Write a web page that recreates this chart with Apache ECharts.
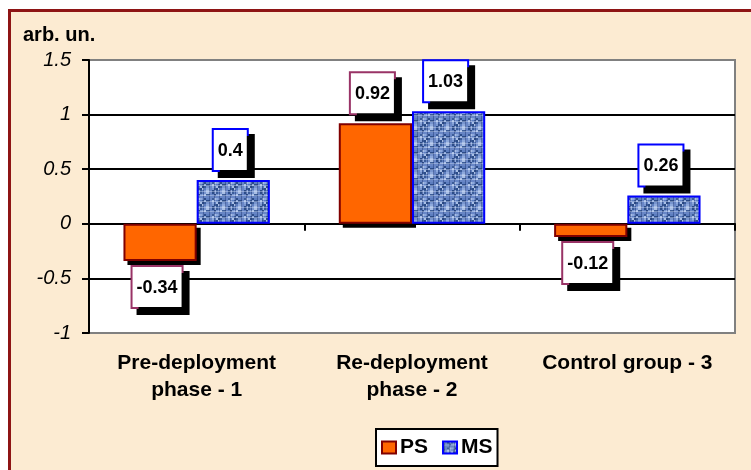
<!DOCTYPE html>
<html>
<head>
<meta charset="utf-8">
<script src="https://cdn.jsdelivr.net/npm/echarts@6/dist/echarts.min.js"></script>
<style>
html,body{margin:0;padding:0;background:#fff;}
#chart{width:751px;height:470px;}
</style>
</head>
<body>
<div id="chart"></div>
<script>
const categories = ['Pre-deployment\nphase - 1', 'Re-deployment\nphase - 2', 'Control group - 3'];
const seriesNames = ['PS', 'MS'];
const psValues = [-0.34, 0.92, -0.12];
const msValues = [0.4, 1.03, 0.26];
const yTicks = { min: -1, max: 1.5, interval: 0.5 };
const yName = 'arb. un.';

const BAR_CAT_GAP = 0.32;

function makeTexture() {
  const c = document.createElement('canvas');
  c.width = 16; c.height = 16;
  const g = c.getContext('2d');
  const shades = ['#a9bfe6', '#7895cf', '#5d7ec0', '#3b5c98', '#8ea9dc', '#2c4c88', '#6886c6'];
  for (let y = 0; y < 16; y += 2) {
    for (let x = 0; x < 16; x += 2) {
      let k = (x * 3 + y * 5 + ((x * y) % 7)) % 7;
      g.fillStyle = shades[k];
      g.fillRect(x, y, 2, 2);
    }
  }
  g.fillStyle = 'rgba(35,60,120,0.5)';
  for (let x = 1; x < 16; x += 5) g.fillRect(x, 0, 1, 16);
  g.fillStyle = 'rgba(215,228,250,0.4)';
  for (let y = 3; y < 16; y += 6) g.fillRect(0, y, 16, 1);
  return c;
}
const msPattern = { image: makeTexture(), repeat: 'repeat' };

const labelBase = {
  show: true,
  offset: [-3, 0],
  fontFamily: "'Liberation Sans', Arial, sans-serif",
  fontWeight: 'bold',
  fontSize: 18,
  lineHeight: 20,
  color: '#000',
  backgroundColor: '#fff',
  borderWidth: 2,
  padding: [11, 4, 9, 4],
  shadowColor: '#000',
  shadowOffsetX: 6,
  shadowOffsetY: 6,
  shadowBlur: 0
};

function withLabels(values, borderColor) {
  return values.map(v => ({
    value: v,
    label: Object.assign({}, labelBase, {
      borderColor: borderColor,
      position: v < 0 ? 'bottom' : 'top',
      distance: v < 0 ? 6 : 10
    })
  }));
}

const chart = echarts.init(document.getElementById('chart'), null, { renderer: 'canvas' });
chart.setOption({
  animation: false,
  backgroundColor: '#fff',
  graphic: [{
    type: 'rect',
    z: -100,
    silent: true,
    shape: { x: 9.5, y: 10.5, width: 800, height: 500 },
    style: { fill: '#FCEBD2', stroke: '#8E1414', lineWidth: 3 }
  }],
  title: {
    text: yName,
    left: 18,
    top: 20,
    textStyle: { fontFamily: "'Liberation Sans', Arial, sans-serif", fontWeight: 'bold', fontSize: 20, color: '#000' }
  },
  grid: {
    left: 89, top: 60, right: 16, bottom: 137,
    show: true, backgroundColor: '#fff', borderColor: '#808080', borderWidth: 2
  },
  legend: {
    data: seriesNames,
    left: 376, top: 429,
    orient: 'horizontal',
    backgroundColor: '#fff',
    borderColor: '#000',
    borderWidth: 2,
    borderRadius: 0,
    padding: [8, 5, 8, 5],
    icon: 'rect',
    itemWidth: 14,
    itemHeight: 12,
    itemGap: 14,
    textStyle: { fontFamily: "'Liberation Sans', Arial, sans-serif", fontWeight: 'bold', fontSize: 21, color: '#000', padding: [0, 0, 0, -1] }
  },
  xAxis: [{
    type: 'category',
    data: categories,
    position: 'bottom',
    axisLine: { onZero: true, lineStyle: { color: '#000', width: 2 } },
    axisTick: { show: true, length: 7, interval: 0, lineStyle: { color: '#000', width: 2 } },
    axisLabel: { show: false },
    splitLine: { show: false }
  }, {
    type: 'category',
    data: categories,
    position: 'bottom',
    axisLine: { show: false, onZero: false },
    axisTick: { show: false },
    axisLabel: {
      show: true, interval: 0, margin: 17,
      fontFamily: "'Liberation Sans', Arial, sans-serif", fontWeight: 'bold', fontSize: 21, lineHeight: 27, color: '#000'
    },
    splitLine: { show: false }
  }],
  yAxis: {
    type: 'value',
    min: yTicks.min, max: yTicks.max, interval: yTicks.interval,
    axisLine: { show: true, lineStyle: { color: '#000', width: 2 } },
    axisTick: { show: true, length: 7, lineStyle: { color: '#000', width: 2 } },
    axisLabel: {
      margin: 18,
      fontFamily: "'Liberation Sans', Arial, sans-serif", fontStyle: 'italic', fontSize: 20, color: '#000'
    },
    splitLine: { show: true, showMinLine: false, showMaxLine: false, lineStyle: { color: '#000', width: 2 } }
  },
  series: [{
    name: 'PS shadow',
    type: 'custom',
    xAxisIndex: 0,
    z: 1,
    silent: true,
    data: psValues.map((v, i) => [i, v]),
    renderItem: function (params, api) {
      const i = api.value(0), v = api.value(1);
      const p0 = api.coord([i, 0]);
      const p1 = api.coord([i, v]);
      const band = api.size([1, 0])[0];
      const bw = band * (1 - BAR_CAT_GAP) / 2;
      return {
        type: 'rect',
        shape: { x: p0[0] - bw + 4, y: Math.min(p0[1], p1[1]) + 4, width: bw, height: Math.abs(p1[1] - p0[1]) },
        style: { fill: '#000' }
      };
    }
  }, {
    name: seriesNames[0],
    type: 'bar',
    xAxisIndex: 0,
    z: 2,
    barGap: '0%',
    barCategoryGap: (BAR_CAT_GAP * 100) + '%',
    data: withLabels(psValues, '#993366'),
    itemStyle: { color: '#FF6600', borderColor: '#800000', borderWidth: 2 }
  }, {
    name: seriesNames[1],
    type: 'bar',
    xAxisIndex: 0,
    z: 2,
    barGap: '0%',
    barCategoryGap: (BAR_CAT_GAP * 100) + '%',
    data: withLabels(msValues, '#0000FF'),
    itemStyle: { color: msPattern, borderColor: '#0000FF', borderWidth: 2 }
  }]
});
</script>
</body>
</html>
